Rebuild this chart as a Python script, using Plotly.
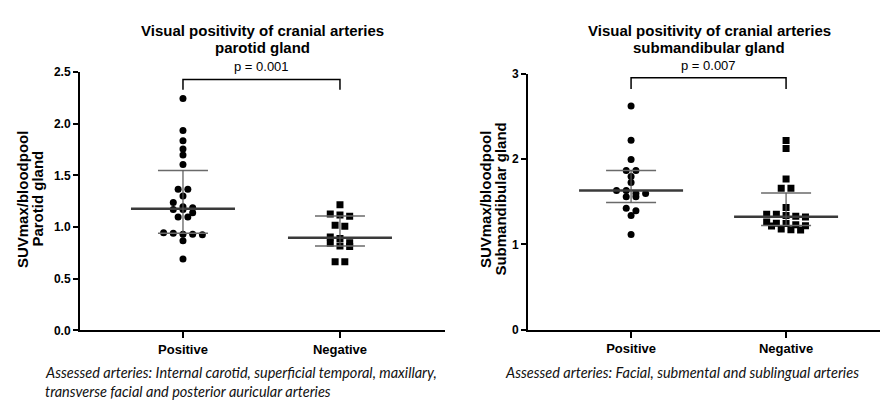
import numpy as np
import plotly.graph_objects as go

# ---------------- data ----------------
categories = ["Positive", "Negative"]

parotid_positive = [2.246, 1.935, 1.835, 1.757, 1.698, 1.607, 1.367, 1.367, 1.30, 1.239,
                    1.196, 1.186, 1.17, 1.17, 1.139, 1.098, 1.098, 0.946, 0.94, 0.93,
                    0.93, 0.925, 0.868, 0.69]
parotid_negative = [1.217, 1.126, 1.117, 1.105, 1.018, 1.008, 0.905, 0.889, 0.849, 0.843,
                    0.818, 0.812, 0.665, 0.665]
subm_positive = [2.62, 2.22, 1.994, 1.866, 1.866, 1.794, 1.726, 1.632, 1.632, 1.595,
                 1.595, 1.557, 1.557, 1.425, 1.395, 1.338, 1.116]
subm_negative = [2.217, 2.122, 1.765, 1.658, 1.658, 1.432, 1.355, 1.355, 1.34, 1.33,
                 1.32, 1.262, 1.248, 1.244, 1.23, 1.22, 1.215, 1.18, 1.172, 1.169]

titles = [["Visual positivity of cranial arteries", "parotid gland"],
          ["Visual positivity of cranial arteries", "submandibular gland"]]
ytitles = [["SUVmax/bloodpool", "Parotid gland"], ["SUVmax/bloodpool", "Submandibular gland"]]
pvalues = ["p = 0.001", "p = 0.007"]
captions = [["Assessed arteries: Internal carotid, superficial temporal, maxillary,",
             "transverse facial and posterior auricular arteries"],
            ["Assessed arteries: Facial, submental and sublingual arteries"]]

# ---------------- layout constants (pixels) ----------------
W, H = 884, 403
panels = [
    dict(x0=80, x1=445, xr=[-0.656, 1.669], y0=335, y1=67.5, yr=[0, 2.5], dtick=0.5, fmt=".1f",
         data=[parotid_positive, parotid_negative], br=(2.43, 2.33),
         title_x=262, ytitle_x=(22, 37.5), cap_x=43),
    dict(x0=528, x1=880, xr=[-0.665, 1.606], y0=334.5, y1=69, yr=[0, 3], dtick=1, fmt="d",
         data=[subm_positive, subm_negative], br=(2.95, 2.82),
         title_x=709, ytitle_x=(485, 500.5), cap_x=503),
]
FONT = "Liberation Sans, Arial, sans-serif"


def px(xp):
    return xp / W


def py(yp):
    return 1 - yp / H


def swarm_offsets(vals, ppy, ppx, row_px=6.0, step_px=9.7, maxrow=5):
    vals = np.asarray(vals, float)
    order = np.argsort(-vals, kind="stable")
    rows, cur, start = [], [], None
    for i in order:
        y = vals[i] * ppy
        if start is None or abs(start - y) >= row_px or len(cur) >= maxrow:
            if cur:
                rows.append(cur)
            cur, start = [i], y
        else:
            cur.append(i)
    if cur:
        rows.append(cur)
    offs = np.zeros(len(vals))
    for r in rows:
        m = len(r)
        for k, i in enumerate(r):
            offs[i] = (k - (m - 1) / 2) * step_px / ppx
    return offs


fig = go.Figure()
annotations = []
shapes = []

for p_i, P in enumerate(panels):
    xa = "x" if p_i == 0 else "x2"
    ya = "y" if p_i == 0 else "y2"
    ppx = (P["x1"] - P["x0"]) / (P["xr"][1] - P["xr"][0])
    ppy = (P["y0"] - P["y1"]) / (P["yr"][1] - P["yr"][0])
    for c_i, vals in enumerate(P["data"]):
        vals = np.asarray(vals, float)
        offs = swarm_offsets(vals, ppy, ppx)
        fig.add_trace(go.Scatter(
            x=c_i + offs, y=vals, mode="markers", xaxis=xa, yaxis=ya,
            marker=dict(symbol="circle" if c_i == 0 else "square", size=7, color="black",
                        line=dict(width=0)),
            showlegend=False, hoverinfo="y"))
        med = np.median(vals)
        q1, q3 = np.percentile(vals, [25, 75], method="weibull")
        wm = 52 / ppx
        wq = 25 / ppx
        fig.add_trace(go.Scatter(x=[c_i - wm, c_i + wm], y=[med, med], mode="lines",
                                 xaxis=xa, yaxis=ya, line=dict(color="#3a3a3a", width=2.5),
                                 showlegend=False, hoverinfo="skip"))
        for q in (q1, q3):
            fig.add_trace(go.Scatter(x=[c_i - wq, c_i + wq], y=[q, q], mode="lines",
                                     xaxis=xa, yaxis=ya, line=dict(color="#6a6a6a", width=1.5),
                                     showlegend=False, hoverinfo="skip"))
        fig.add_trace(go.Scatter(x=[c_i, c_i], y=[q1, q3], mode="lines",
                                 xaxis=xa, yaxis=ya, line=dict(color="#555555", width=1.2),
                                 showlegend=False, hoverinfo="skip"))

    # significance bracket
    top, leg = P["br"]
    shapes.append(dict(type="path", xref=xa, yref=ya,
                       path=f"M 0,{leg} L 0,{top} L 1,{top} L 1,{leg}",
                       line=dict(color="black", width=1.5)))
    annotations.append(dict(x=0.5, y=top, xref=xa, yref=ya, text=pvalues[p_i],
                            showarrow=False, yanchor="bottom", yshift=3,
                            font=dict(family=FONT, size=13, color="black")))

    # title
    for l_i, line in enumerate(titles[p_i]):
        annotations.append(dict(x=px(P["title_x"]), y=py([24, 42][l_i]), xref="paper",
                                yref="paper", text=line, showarrow=False, xanchor="center",
                                yanchor="middle",
                                font=dict(family=FONT, size=15, color="black", weight="bold")))
    # y title
    for l_i, line in enumerate(ytitles[p_i]):
        annotations.append(dict(x=px(P["ytitle_x"][l_i]), y=py(199), xref="paper",
                                yref="paper", text=line, showarrow=False, textangle=-90,
                                xanchor="center", yanchor="middle",
                                font=dict(family=FONT, size=15, color="black", weight="bold")))
    # captions
    for l_i, line in enumerate(captions[p_i]):
        annotations.append(dict(x=px(P["cap_x"]), y=py([379, 398][l_i]), xref="paper",
                                yref="paper", text="<i>" + line + "</i>", showarrow=False,
                                xanchor="left", yanchor="middle",
                                font=dict(family="Lato, Open Sans, sans-serif", size=14.5,
                                          color="#111111")))

    axis_common = dict(showline=True, linecolor="black", linewidth=2, ticks="outside",
                       tickwidth=2, tickcolor="black", showgrid=False, zeroline=False,
                       fixedrange=True)
    xkey = "xaxis" if p_i == 0 else "xaxis2"
    ykey = "yaxis" if p_i == 0 else "yaxis2"
    fig.update_layout(**{
        xkey: dict(domain=[px(P["x0"]), px(P["x1"])], range=P["xr"], anchor=ya,
                   tickvals=[0, 1], ticktext=categories, ticklen=6,
                   tickfont=dict(family=FONT, size=13, color="black", weight="bold"),
                   **axis_common),
        ykey: dict(domain=[py(P["y0"]), py(P["y1"])], range=P["yr"], anchor=xa,
                   dtick=P["dtick"], tick0=0, tickformat=P["fmt"], ticklen=5,
                   tickfont=dict(family=FONT, size=12, color="black", weight="bold"),
                   **axis_common),
    })

fig.update_layout(width=W, height=H, margin=dict(l=0, r=0, t=0, b=0),
                  paper_bgcolor="white", plot_bgcolor="white",
                  annotations=annotations, shapes=shapes, showlegend=False)

fig.write_html("out.html")
